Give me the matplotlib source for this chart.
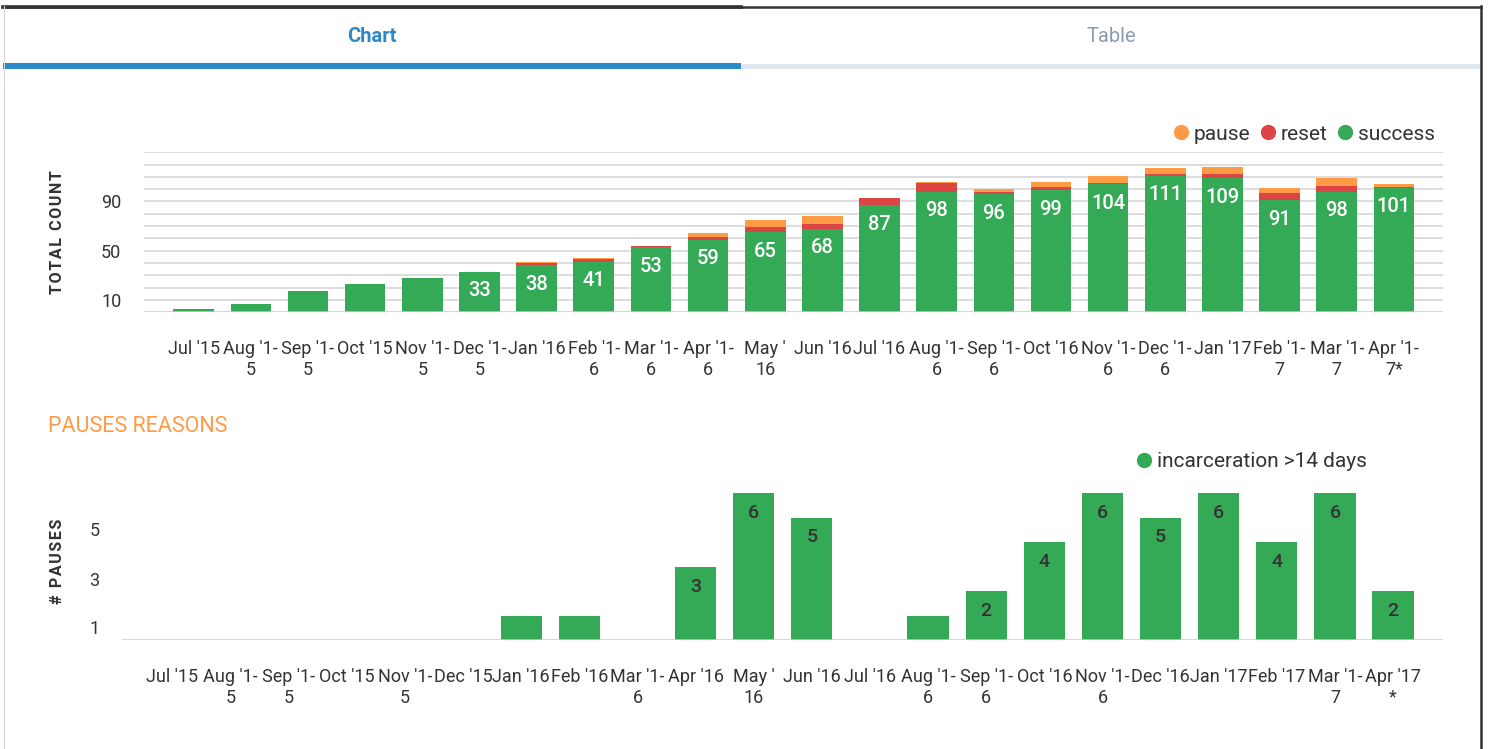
import matplotlib
matplotlib.use("Agg")
import matplotlib.pyplot as plt
from matplotlib.lines import Line2D
from matplotlib.patches import Rectangle
import matplotlib.transforms as mtransforms
import numpy as np

# ---------------- data ----------------
months = ["Jul '15", "Aug '15", "Sep '15", "Oct '15", "Nov '15", "Dec '15",
          "Jan '16", "Feb '16", "Mar '16", "Apr '16", "May '16", "Jun '16",
          "Jul '16", "Aug '16", "Sep '16", "Oct '16", "Nov '16", "Dec '16",
          "Jan '17", "Feb '17", "Mar '17", "Apr '17*"]
top_tick_labels = ["Jul '15", "Aug '1-\n5", "Sep '1-\n5", "Oct '15", "Nov '1-\n5",
                   "Dec '1-\n5", "Jan '16", "Feb '1-\n6", "Mar '1-\n6", "Apr '1-\n6",
                   "May '\n16", "Jun '16", "Jul '16", "Aug '1-\n6", "Sep '1-\n6",
                   "Oct '16", "Nov '1-\n6", "Dec '1-\n6", "Jan '17", "Feb '1-\n7",
                   "Mar '1-\n7", "Apr '1-\n7*"]
bottom_tick_labels = ["Jul '15", "Aug '1-\n5", "Sep '1-\n5", "Oct '15", "Nov '1-\n5",
                      "Dec '15", "Jan '16", "Feb '16", "Mar '1-\n6", "Apr '16",
                      "May '\n16", "Jun '16", "Jul '16", "Aug '1-\n6", "Sep '1-\n6",
                      "Oct '16", "Nov '1-\n6", "Dec '16", "Jan '17", "Feb '17",
                      "Mar '1-\n7", "Apr '17\n*"]
success = [3, 7, 17, 23, 28, 33, 38, 41, 53, 59, 65, 68, 87, 98, 96, 99, 104, 111, 109, 91, 98, 101]
reset = [0, 0, 0, 0, 0, 0, 2, 2, 1, 2, 4, 4, 6, 7, 2, 3, 1, 1, 3, 6, 5, 1]
pause = [0, 0, 0, 0, 0, 0, 1, 1, 0, 3, 6, 6, 0, 1, 2, 4, 6, 5, 6, 4, 6, 2]
incarceration = [0, 0, 0, 0, 0, 0, 1, 1, 0, 3, 6, 5, 0, 1, 2, 4, 6, 5, 6, 4, 6, 2]
top_yticks = [10, 50, 90]
bottom_yticks = [1, 3, 5]

# ---------------- style ----------------
GREEN = "#34aa57"
RED = "#dc4545"
ORANGE = "#ff9a45"
TEXT = "#333333"
FONT = "Roboto"
plt.rcParams["font.family"] = [FONT, "DejaVu Sans"]
HS = "\u200a"  # hair space for letter spacing of axis titles

W, H = 1489, 749
fig = plt.figure(figsize=(W / 100, H / 100), dpi=100)
fig.patch.set_facecolor("white")


def fx(px):
    return px / W


def fy(py):
    return 1 - py / H


def spaced(t):
    return HS.join(t)


# ---------------- tab header ----------------
fig.add_artist(Line2D([fx(3), fx(1481)], [fy(6.5), fy(6.5)], color="#333333", lw=1.8))
fig.add_artist(Line2D([fx(3), fx(741)], [fy(6.5), fy(6.5)], color="#333333", lw=2.6))
fig.add_artist(Line2D([fx(1481), fx(1481)], [fy(6), fy(749)], color="#333333", lw=1.8))
fig.add_artist(Line2D([fx(3.5), fx(3.5)], [fy(6), fy(749)], color="#d5d5d5", lw=0.8))
fig.add_artist(Rectangle((fx(3), fy(69)), fx(741) - fx(3), fy(63) - fy(69),
                         transform=fig.transFigure, color="#2b89c8", lw=0))
fig.add_artist(Rectangle((fx(741), fy(69)), fx(1480) - fx(741), fy(64) - fy(69),
                         transform=fig.transFigure, color="#dfe6ee", lw=0))
fig.text(fx(372), fy(36), "Chart", color="#2b89c8", fontsize=14.5, fontweight="bold",
         ha="center", va="center")
fig.text(fx(1111), fy(36), "Table", color="#8d9cad", fontsize=14.5,
         ha="center", va="center")

x = np.arange(len(months))
bar_w = 0.71
XL = (-0.864, len(months) - 1 + 0.864)

# ---------------- top chart ----------------
ax1 = fig.add_axes([fx(144.3), fy(312.2), fx(1443.3) - fx(144.3), fy(152.3) - fy(312.2)])
ax1.set_xlim(*XL)
ax1.set_ylim(0, 130)
s = np.array(success)
r = np.array(reset)
p = np.array(pause)
ax1.bar(x, s, width=bar_w, color=GREEN, zorder=3)
ax1.bar(x, r, width=bar_w, bottom=s, color=RED, zorder=3)
ax1.bar(x, p, width=bar_w, bottom=s + r, color=ORANGE, zorder=3)
for yy in range(10, 131, 10):
    ax1.axhline(yy, color="#d3d3d3", lw=1.1, zorder=1)
ax1.axhline(0, color="#c2ccd6", lw=1.8, zorder=4)
for sp in ax1.spines.values():
    sp.set_visible(False)
ax1.set_yticks(top_yticks)
ax1.set_yticklabels([str(v) for v in top_yticks])
ax1.set_xticks(x)
ax1.set_xticklabels(top_tick_labels)
ax1.tick_params(axis="both", length=0, labelsize=13, labelcolor=TEXT)
ax1.tick_params(axis="y", pad=16.5)
ax1.tick_params(axis="x", pad=20)
for xi, v in zip(x, success):
    if v >= 30:
        ax1.annotate(str(v), (xi, v), xytext=(0, -19), textcoords="offset pixels",
                     ha="center", va="center", color="white", fontsize=14.5,
                     fontweight="medium", zorder=5)
fig.text(fx(57), fy(232), spaced("TOTAL COUNT"), rotation=90, ha="center", va="center",
         color=TEXT, fontsize=11.5, fontweight="bold")
h_top = [Line2D([], [], marker="o", ls="", color=c, markersize=10)
         for c in (ORANGE, RED, GREEN)]
fig.legend(h_top, ["pause", "reset", "success"], loc="center right",
           bbox_to_anchor=(fx(1445), fy(134)), ncol=3, frameon=False,
           fontsize=15, handletextpad=0.0, columnspacing=0.25,
           handlelength=1.2, borderpad=0, labelcolor=TEXT)

# ---------------- bottom chart ----------------
fig.text(fx(48), fy(427), "PAUSES REASONS", color=ORANGE, fontsize=15.5,
         ha="left", va="center")
ax2 = fig.add_axes([fx(122.3), fy(640), fx(1443.3) - fx(122.3), fy(493) - fy(640)])
ax2.set_xlim(*XL)
ax2.set_ylim(0, 6)
ax2.bar(x, incarceration, width=bar_w, color=GREEN, zorder=3)
ax2.axhline(0, color="#c2ccd6", lw=1.8, zorder=4)
for sp in ax2.spines.values():
    sp.set_visible(False)
ax2.set_yticks(bottom_yticks)
ax2.set_yticklabels([str(v) for v in bottom_yticks])
ax2.set_xticks(x)
ax2.set_xticklabels(bottom_tick_labels)
ax2.tick_params(axis="both", length=0, labelsize=13, labelcolor=TEXT)
ax2.tick_params(axis="y", pad=16.5)
ax2.tick_params(axis="x", pad=20)
off = mtransforms.ScaledTranslation(0, -12 / 100, fig.dpi_scale_trans)
for lab in ax2.get_yticklabels():
    lab.set_transform(lab.get_transform() + off)
for xi, v in zip(x, incarceration):
    if v >= 2:
        ax2.annotate(str(v), (xi, v), xytext=(0, -20), textcoords="offset pixels",
                     ha="center", va="center", color=TEXT, fontsize=14,
                     fontweight="medium", zorder=5)
fig.text(fx(57), fy(561), spaced("# PAUSES"), rotation=90, ha="center", va="center",
         color=TEXT, fontsize=11.5, fontweight="bold")
h_bot = [Line2D([], [], marker="o", ls="", color=GREEN, markersize=10)]
fig.legend(h_bot, ["incarceration >14 days"], loc="center right",
           bbox_to_anchor=(fx(1377), fy(462)), frameon=False, fontsize=15,
           handletextpad=0.0, handlelength=1.2, borderpad=0, labelcolor=TEXT)

fig.savefig("out.png", dpi=100, facecolor="white")
